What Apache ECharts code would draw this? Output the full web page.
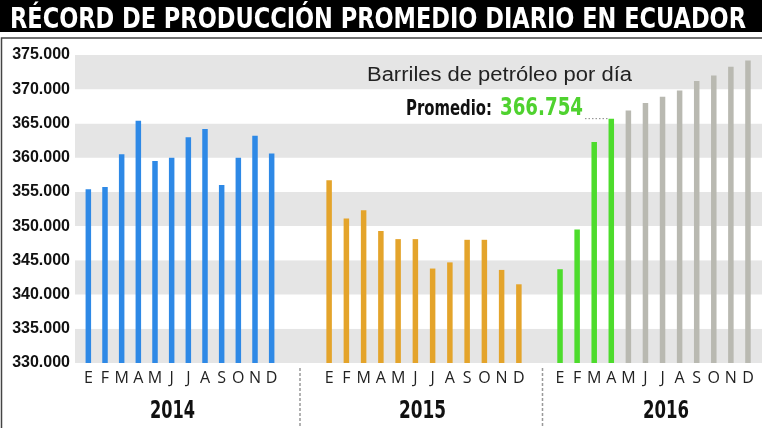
<!DOCTYPE html>
<html><head><meta charset="utf-8">
<script src="https://cdn.jsdelivr.net/npm/echarts@6/dist/echarts.min.js"></script>
<style>html,body{margin:0;padding:0;background:#fff}#c{width:762px;height:428px}</style>
</head><body><div id="c"></div>
<script>
const months = ['E','F','M','A','M','J','J','A','S','O','N','D'];
const years = ['2014','2015','2016'];
const yTicks = {min:330000, max:375000, step:5000};
const v2014 = [355400,355700,360500,365400,359500,360000,363000,364200,356000,360000,363200,360600];
const v2015 = [356700,351100,352300,349300,348100,348100,343800,344700,348000,348000,343600,341500];
const v2016real = [343700,349500,362300,365700,'-','-','-','-','-','-','-','-'];
const v2016proj = ['-','-','-','-',366900,368000,368900,369800,371200,372000,373300,374200];
const titleText = 'RÉCORD DE PRODUCCIÓN PROMEDIO DIARIO EN ECUADOR';
const subtitleText = 'Barriles de petróleo por día';
const avgLabel = 'Promedio:';
const avgValue = '366.754';

const NARROW = '"Liberation Sans Narrow","DejaVu Sans Condensed","Liberation Sans",Arial,sans-serif';
const SANS = '"Liberation Sans",Arial,Helvetica,sans-serif';
const mctx = document.createElement('canvas').getContext('2d');
function fit(text, weight, size, family, w){
  mctx.font = weight+' '+size+'px '+family;
  return w / mctx.measureText(text).width;
}
function txt(text, left, cy, w, weight, size, family, fill){
  return {type:'text', x:left, y:cy, scaleX: fit(text, weight, size, family, w), z:100,
    style:{text:text, fontWeight:weight, fontSize:size, fontFamily:family, fill:fill, align:'left', verticalAlign:'middle'}};
}

const chart = echarts.init(document.getElementById('c'), null, {renderer:'canvas'});
const gridTop = 55, gridBottom = 65;
const barW = 5.5;
const yHidden = i => ({type:'value', gridIndex:i, min:yTicks.min, max:yTicks.max, interval:yTicks.step, show:false});
const xCat = i => ({type:'category', gridIndex:i, data:months, axisLine:{show:false}, axisTick:{show:false},
  axisLabel:{interval:0, margin:7, fontSize:16, color:'#222', fontFamily:'"Open Sans",sans-serif'}});
const option = {
  animation:false,
  backgroundColor:'#fff',
  grid:[
    {left:75, right:0, top:gridTop, bottom:gridBottom},
    {left:80, width:200, top:gridTop, bottom:gridBottom},
    {left:320.5, width:207, top:gridTop, bottom:gridBottom},
    {left:551.5, width:205, top:gridTop, bottom:gridBottom}
  ],
  xAxis:[
    {type:'value', gridIndex:0, min:0, max:1, show:false},
    xCat(1), xCat(2), xCat(3)
  ],
  yAxis:[
    {type:'value', gridIndex:0, min:yTicks.min, max:yTicks.max, interval:yTicks.step,
      axisLine:{show:false}, axisTick:{show:false}, splitLine:{show:false},
      splitArea:{show:true, areaStyle:{color:['#e5e5e5','#ffffff']}},
      axisLabel:{margin:5, fontSize:16, fontWeight:'bold', color:'#111', fontFamily:SANS,
        formatter: v => (v/1000).toFixed(3)}},
    yHidden(1), yHidden(2), yHidden(3)
  ],
  series:[
    {type:'bar', xAxisIndex:1, yAxisIndex:1, data:v2014, barWidth:barW, itemStyle:{color:'#2e89e6'}},
    {type:'bar', xAxisIndex:2, yAxisIndex:2, data:v2015, barWidth:barW, itemStyle:{color:'#e4a42b'}},
    {type:'bar', xAxisIndex:3, yAxisIndex:3, data:v2016real, barWidth:barW, barGap:'-100%', itemStyle:{color:'#4ddc2c'}},
    {type:'bar', xAxisIndex:3, yAxisIndex:3, data:v2016proj, barWidth:barW, barGap:'-100%', itemStyle:{color:'#b9b9b1'}}
  ]
};
chart.setOption(option);

// dotted leader from the average label to the last real 2016 bar
const lastIdx = 3;
const p = chart.convertToPixel({xAxisIndex:3, yAxisIndex:3}, [lastIdx, v2016real[lastIdx]]);

chart.setOption({graphic:[
  {type:'rect', shape:{x:0, y:0, width:762, height:32}, style:{fill:'#000'}, z:90},
  {type:'rect', shape:{x:1.5, y:38, width:800, height:500}, style:{fill:'none', stroke:'#444', lineWidth:1.5}, z:90},
  txt(titleText, 10, 20.5, 736, 'bold', 28, NARROW, '#fff'),
  txt(subtitleText, 367, 75, 265, 'normal', 20, SANS, '#222'),
  txt(avgLabel, 406, 110, 86, 'bold', 21, NARROW, '#111'),
  txt(avgValue, 500, 108.7, 83, 'bold', 25, NARROW, '#4fd22f'),
  {type:'line', shape:{x1:585, y1:p[1], x2:p[0]-barW/2-1, y2:p[1]}, style:{stroke:'#888', lineWidth:1, lineDash:[1.5,2]}, z:95},
  txt(years[0], 150, 412, 45, 'bold', 24, NARROW, '#111'),
  txt(years[1], 399, 412, 47, 'bold', 24, NARROW, '#111'),
  txt(years[2], 643, 412, 46, 'bold', 24, NARROW, '#111'),
  {type:'line', shape:{x1:300, y1:368, x2:300, y2:428}, style:{stroke:'#999', lineWidth:1.5, lineDash:[3,2]}, z:95},
  {type:'line', shape:{x1:542.5, y1:368, x2:542.5, y2:428}, style:{stroke:'#999', lineWidth:1.5, lineDash:[3,2]}, z:95}
]});
</script></body></html>
